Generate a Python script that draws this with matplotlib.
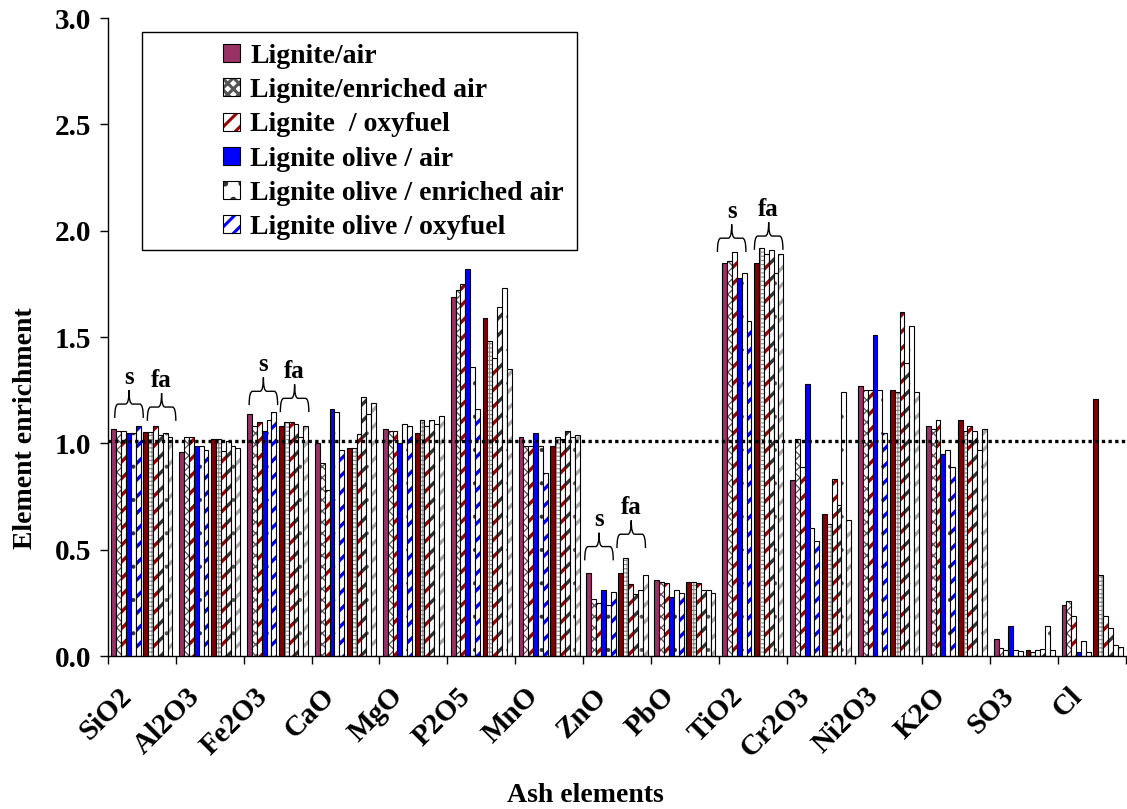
import numpy as np
import matplotlib.pyplot as plt
import matplotlib.transforms as mtransforms
from matplotlib.patches import Patch, Rectangle, PathPatch
from matplotlib.path import Path

plt.rcParams['font.family'] = ['Liberation Serif', 'DejaVu Serif']
plt.rcParams['font.weight'] = 'bold'
plt.rcParams['hatch.linewidth'] = 2.2

categories = ['SiO2', 'Al2O3', 'Fe2O3', 'CaO', 'MgO', 'P2O5', 'MnO', 'ZnO',
              'PbO', 'TiO2', 'Cr2O3', 'Ni2O3', 'K2O', 'SO3', 'Cl']

# first cluster in each category ("s")
lig_air_s = [1.07, 0.96, 1.14, 1.00, 1.07, 1.69, 1.03, 0.39, 0.36, 1.85, 0.83, 1.27, 1.08, 0.08, 0.24]
lig_enr_s = [1.06, 1.03, 1.08, 0.91, 1.06, 1.72, 0.99, 0.27, 0.35, 1.86, 1.02, 1.25, 1.07, 0.04, 0.26]
lig_oxy_s = [1.06, 1.03, 1.10, 0.78, 1.06, 1.75, 0.99, 0.25, 0.345, 1.90, 0.89, 1.25, 1.11, 0.03, 0.19]
olv_air_s = [1.05, 0.99, 1.06, 1.16, 1.00, 1.82, 1.05, 0.31, 0.28, 1.78, 1.28, 1.51, 0.95, 0.14, 0.02]
olv_enr_s = [1.05, 0.99, 1.11, 1.15, 1.09, 1.36, 0.99, 0.24, 0.31, 1.80, 0.60, 1.25, 0.97, 0.03, 0.07]
olv_oxy_s = [1.08, 0.97, 1.15, 0.97, 1.08, 1.16, 0.86, 0.30, 0.295, 1.575, 0.54, 1.05, 0.89, 0.025, 0.017]

# second cluster in each category ("fa")
lig_air_fa = [1.055, 1.02, 1.08, 0.98, 1.05, 1.59, 0.99, 0.39, 0.35, 1.85, 0.67, 1.25, 1.11, 0.03, 1.21]
lig_enr_fa = [1.055, 1.02, 1.10, 0.98, 1.11, 1.48, 1.03, 0.46, 0.35, 1.92, 0.62, 1.24, 1.06, 0.02, 0.38]
lig_oxy_fa = [1.08, 0.965, 1.10, 1.045, 1.08, 1.40, 1.02, 0.34, 0.345, 1.89, 0.835, 1.62, 1.08, 0.03, 0.19]
olv_air_fa = [1.04, 1.01, 1.09, 1.22, 1.11, 1.64, 1.06, 0.29, 0.31, 1.91, 0.71, 1.38, 1.06, 0.035, 0.13]
olv_enr_fa = [1.05, 0.99, 1.03, 1.14, 1.09, 1.73, 1.03, 0.31, 0.31, 1.80, 1.24, 1.55, 0.97, 0.14, 0.05]
olv_oxy_fa = [1.03, 0.98, 1.08, 1.19, 1.13, 1.35, 1.04, 0.38, 0.295, 1.89, 0.64, 1.24, 1.07, 0.03, 0.044]

legend_labels = ['Lignite/air', 'Lignite/enriched air', 'Lignite  / oxyfuel',
                 'Lignite olive / air', 'Lignite olive / enriched air',
                 'Lignite olive / oxyfuel']

# (face colour, hatch, hatch colour, hatch width)
styles_s = [('#993366', None, None, None),
            ('white', 'xxx', '#555555', 0.9),
            ('white', '//', '#9b0000', 2.4),
            ('#0000ff', None, None, None),
            ('white', '.', '#333333', 0.5),
            ('white', '//', '#0000ff', 2.4)]
styles_fa = [('#800000', None, None, None),
             ('white', '++++', '#888888', 0.8),
             ('white', '//', '#9b0000', 2.4),
             ('white', '//', '#333333', 2.4),
             ('white', '.', '#555555', 0.5),
             ('white', '//', '#a8a8a8', 2.4)]

# braces over some clusters: (x centre, y of brace foot, label)
brace_x = [0.31, 0.79, 2.29, 2.75, 7.235, 7.71, 9.19, 9.735]
brace_y = [1.12, 1.106, 1.18, 1.147, 0.45, 0.508, 1.90, 1.91]
brace_lbl = ['s', 'fa', 's', 'fa', 's', 'fa', 's', 'fa']

FS = 20
TFS = 21
w = 0.0717
margin = 0.05
gap = 0.04
x0 = np.arange(len(categories))


def set_hlw(p, lw):
    if lw is not None and hasattr(p, 'set_hatch_linewidth'):
        p.set_hatch_linewidth(lw)


def draw_series(ax, xs, vals, style):
    fc, h, hc, hlw = style
    if h is None:
        ax.bar(xs, vals, w, align='edge', color=fc, edgecolor='black', linewidth=0.8)
        return Patch(facecolor=fc, edgecolor='black', linewidth=0.8)
    bars = ax.bar(xs, vals, w, align='edge', color=fc, hatch=h, edgecolor=hc, linewidth=0)
    for b in bars:
        set_hlw(b, hlw)
    ax.bar(xs, vals, w, align='edge', fill=False, edgecolor='black', linewidth=0.8)
    p1 = Patch(facecolor=fc, hatch=h, edgecolor=hc, linewidth=0)
    set_hlw(p1, hlw)
    p2 = Patch(fill=False, edgecolor='black', linewidth=0.8)
    return (p1, p2)


def brace(ax, xc, y0, width=0.42, h=0.13):
    x1, x2 = xc - width / 2, xc + width / 2
    q = width * 0.12
    ym = y0 + h * 0.5
    verts = [(x1, y0), (x1, ym), (x1 + q, ym),
             (xc - q, ym),
             (xc, ym), (xc, y0 + h),
             (xc, ym), (xc + q, ym),
             (x2 - q, ym),
             (x2, ym), (x2, y0)]
    codes = [Path.MOVETO, Path.CURVE3, Path.CURVE3,
             Path.LINETO,
             Path.CURVE3, Path.CURVE3,
             Path.CURVE3, Path.CURVE3,
             Path.LINETO,
             Path.CURVE3, Path.CURVE3]
    ax.add_patch(PathPatch(Path(verts, codes), fill=False, edgecolor='black', linewidth=1.0))


fig = plt.figure(figsize=(11.27, 8.09), dpi=100)
ax = fig.add_axes([0.0958, 0.189, 0.9033, 0.7887])

s_series = [lig_air_s, lig_enr_s, lig_oxy_s, olv_air_s, olv_enr_s, olv_oxy_s]
fa_series = [lig_air_fa, lig_enr_fa, lig_oxy_fa, olv_air_fa, olv_enr_fa, olv_oxy_fa]

handles = []
for i, (vals, st) in enumerate(zip(s_series, styles_s)):
    handles.append(draw_series(ax, x0 + margin + i * w, vals, st))
for i, (vals, st) in enumerate(zip(fa_series, styles_fa)):
    draw_series(ax, x0 + margin + 6 * w + gap + i * w, vals, st)

ax.axhline(1.01, color='black', linestyle=(0, (1, 1)), linewidth=2.4)

for xc, yb, lbl in zip(brace_x, brace_y, brace_lbl):
    brace(ax, xc, yb)
    ax.text(xc, yb + 0.19, lbl, ha='center', va='center', fontsize=FS - 2, fontweight='bold')

ax.set_xlim(0, len(categories))
ax.set_ylim(0, 3.0)
ax.set_yticks(np.arange(0, 3.01, 0.5))
ax.set_yticklabels([f'{v:.1f}' for v in np.arange(0, 3.01, 0.5)], fontsize=TFS, fontweight='bold')
ax.set_xticks(np.arange(0, len(categories) + 1))
ax.set_xticklabels([])
ax.set_xticks(x0 + 0.5, minor=True)
ax.set_xticklabels(categories, minor=True, rotation=45, ha='right', va='top',
                   fontsize=TFS, fontweight='bold')
ax.tick_params(axis='x', which='major', direction='out', length=6, width=1)
ax.tick_params(axis='x', which='minor', length=0, pad=19)
ax.tick_params(axis='y', direction='out', length=6, width=1, pad=6)
shift = mtransforms.ScaledTranslation(-0.05, 0, fig.dpi_scale_trans)
for lab in ax.xaxis.get_minorticklabels():
    lab.set_transform(lab.get_transform() + shift)

for side in ['top', 'right']:
    ax.spines[side].set_visible(False)
ax.spines['left'].set_linewidth(1)
ax.spines['bottom'].set_linewidth(1)

ax.set_ylabel('Element enrichment', fontsize=FS, fontweight='bold')
ax.yaxis.set_label_coords(-0.0688, 0.357)
ax.set_xlabel('Ash elements', fontsize=FS, fontweight='bold')
ax.xaxis.set_label_coords(0.4686, -0.199)

# legend box drawn separately (wide left padding as in the original)
fig.patches.append(Rectangle((141.7 / 1127, 1 - 250 / 809), (577 - 141.7) / 1127,
                             (250 - 31.7) / 809, transform=fig.transFigure,
                             fill=False, edgecolor='black', linewidth=1.0))
fig.legend(handles, legend_labels, loc='upper left', frameon=False,
           bbox_to_anchor=(222.7 / 1127, 1 - 44 / 809), bbox_transform=fig.transFigure,
           borderpad=0, borderaxespad=0, handlelength=0.62, handleheight=0.62,
           handletextpad=0.37, labelspacing=0.33,
           prop={'family': ['Liberation Serif'], 'weight': 'bold', 'size': FS})

fig.savefig('out.png', dpi=100)
